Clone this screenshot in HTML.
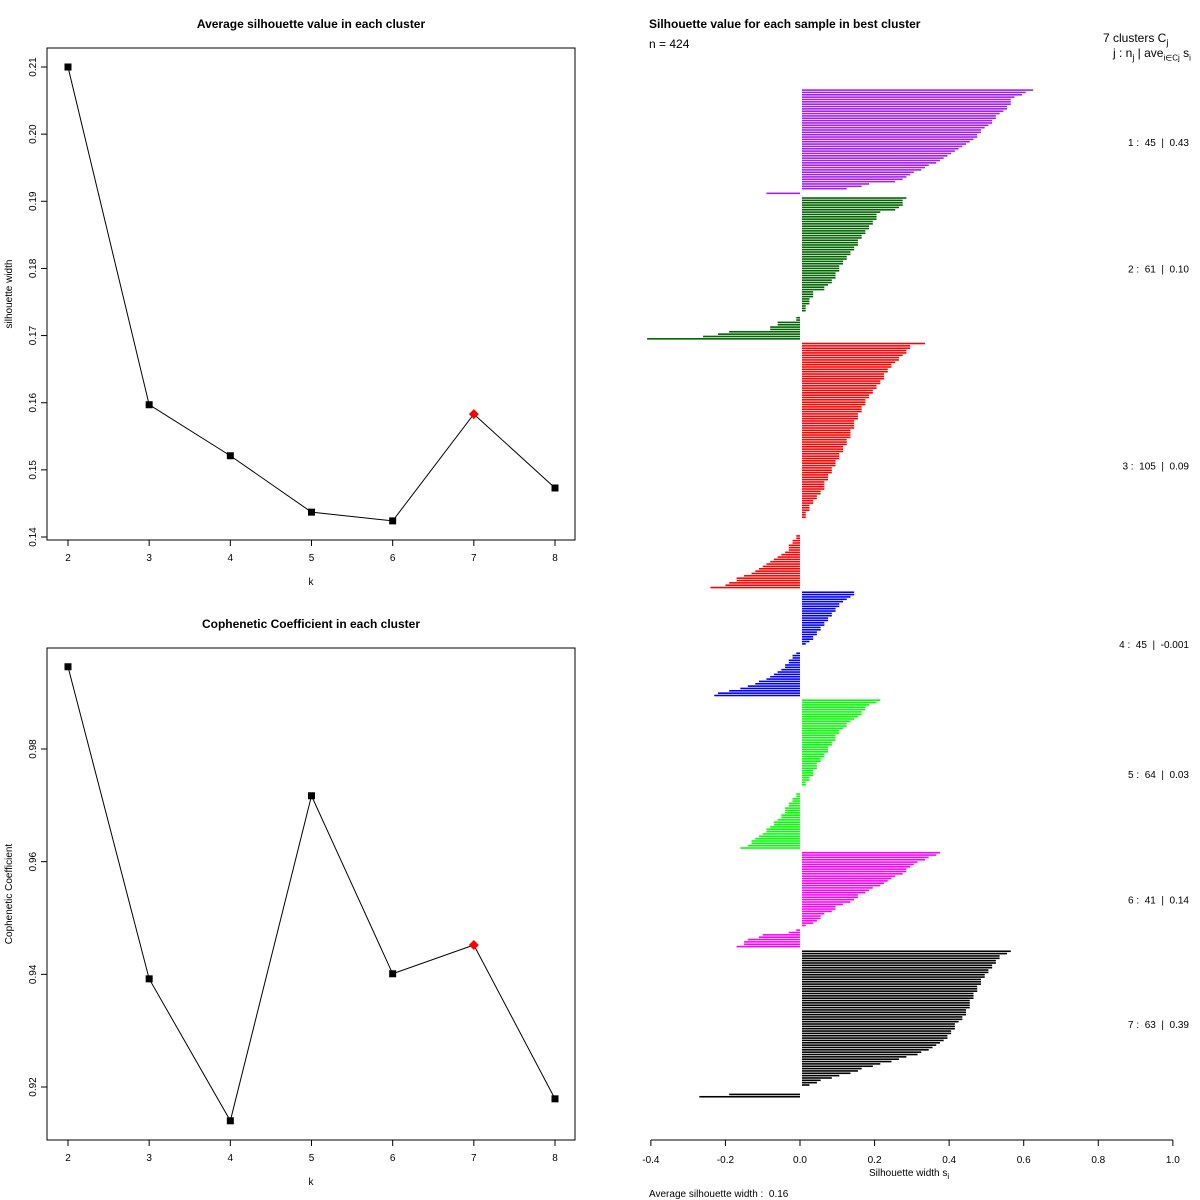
<!DOCTYPE html>
<html><head><meta charset="utf-8"><style>
body{margin:0;background:#fff;}
svg{display:block;font-family:"Liberation Sans",sans-serif;}
</style></head><body>
<svg id="c" width="1200" height="1200" viewBox="0 0 1200 1200"></svg>
<script>
const ks=[2,3,4,5,6,7,8];
const silValues=[0.2100,0.1597,0.1521,0.1437,0.1424,0.1583,0.1473];
const silTicks=[0.14,0.15,0.16,0.17,0.18,0.19,0.20,0.21];
const copheValues=[0.9946,0.9392,0.9140,0.9717,0.9401,0.9452,0.9179];
const copheTicks=[0.92,0.94,0.96,0.98];
const bestK=7;
const clusterNames=["1","2","3","4","5","6","7"];
const clusterSizes=[45,61,105,45,64,41,63];
const clusterAvg=["0.43","0.10","0.09","-0.001","0.03","0.14","0.39"];
const clusterColors=["#a020f0","#006400","#ff0000","#0000ff","#00ff00","#ff00ff","#000000"];
const c1=[0.62,0.60,0.59,0.57,0.56,0.56,0.56,0.55,0.55,0.54,0.53,0.52,0.52,0.51,0.51,0.50,0.49,0.48,0.48,0.47,0.47,0.46,0.45,0.44,0.43,0.42,0.41,0.40,0.39,0.38,0.37,0.36,0.34,0.33,0.32,0.30,0.29,0.28,0.27,0.25,0.18,0.16,0.12,0,-0.09];
const c2=[0.28,0.27,0.27,0.27,0.26,0.25,0.21,0.20,0.20,0.20,0.19,0.19,0.18,0.18,0.17,0.17,0.16,0.16,0.15,0.15,0.15,0.14,0.14,0.13,0.13,0.12,0.12,0.11,0.11,0.10,0.10,0.10,0.09,0.09,0.09,0.08,0.08,0.07,0.06,0.06,0.03,0.03,0.03,0.02,0.02,0.02,0.01,0.01,0.01,0,0,-0.01,-0.01,-0.06,-0.06,-0.08,-0.08,-0.19,-0.22,-0.26,-0.41];
const c3=[0.33,0.29,0.29,0.28,0.28,0.27,0.26,0.26,0.25,0.24,0.24,0.23,0.23,0.22,0.22,0.22,0.21,0.21,0.20,0.20,0.19,0.19,0.18,0.18,0.17,0.17,0.17,0.16,0.16,0.16,0.15,0.15,0.15,0.14,0.14,0.14,0.14,0.13,0.13,0.13,0.13,0.12,0.12,0.12,0.11,0.11,0.11,0.10,0.10,0.10,0.09,0.09,0.09,0.08,0.08,0.08,0.07,0.07,0.07,0.06,0.06,0.06,0.06,0.05,0.05,0.04,0.04,0.03,0.03,0.02,0.02,0.02,0.01,0.01,0.01,0,0,0,0,0,0,0,-0.01,-0.01,-0.02,-0.02,-0.03,-0.03,-0.03,-0.04,-0.05,-0.06,-0.07,-0.08,-0.09,-0.10,-0.11,-0.12,-0.13,-0.15,-0.17,-0.17,-0.19,-0.20,-0.24];
const c4=[0.14,0.14,0.13,0.12,0.11,0.10,0.10,0.09,0.09,0.08,0.08,0.07,0.07,0.06,0.06,0.05,0.05,0.04,0.04,0.03,0.03,0.02,0.01,0,0,0,-0.01,-0.02,-0.02,-0.03,-0.03,-0.04,-0.04,-0.05,-0.06,-0.07,-0.08,-0.09,-0.11,-0.12,-0.14,-0.16,-0.19,-0.22,-0.23];
const c5=[0.21,0.20,0.18,0.17,0.17,0.16,0.16,0.15,0.14,0.13,0.12,0.12,0.11,0.10,0.10,0.09,0.09,0.09,0.08,0.08,0.07,0.07,0.07,0.06,0.06,0.05,0.05,0.04,0.04,0.04,0.03,0.03,0.03,0.02,0.02,0.01,0.01,0,0,0,-0.01,-0.01,-0.02,-0.02,-0.03,-0.03,-0.04,-0.04,-0.04,-0.05,-0.05,-0.06,-0.07,-0.07,-0.08,-0.09,-0.09,-0.10,-0.11,-0.12,-0.13,-0.13,-0.14,-0.16];
const c6=[0.37,0.36,0.34,0.33,0.31,0.30,0.29,0.28,0.28,0.27,0.25,0.24,0.23,0.22,0.21,0.19,0.18,0.17,0.15,0.15,0.14,0.13,0.11,0.09,0.09,0.08,0.06,0.05,0.05,0.04,0.03,0.01,0,-0.01,-0.03,-0.10,-0.11,-0.14,-0.15,-0.15,-0.17];
const c7=[0.56,0.55,0.53,0.53,0.52,0.52,0.51,0.51,0.50,0.50,0.49,0.49,0.48,0.48,0.48,0.47,0.47,0.47,0.46,0.46,0.46,0.45,0.45,0.45,0.45,0.44,0.44,0.44,0.43,0.43,0.42,0.41,0.41,0.41,0.40,0.40,0.39,0.39,0.38,0.37,0.36,0.35,0.34,0.32,0.31,0.28,0.26,0.24,0.21,0.19,0.16,0.15,0.13,0.10,0.08,0.05,0.04,0.02,0,0,0,-0.19,-0.27];
const clusterValues=[c1,c2,c3,c4,c5,c6,c7];
const silXTicks=[-0.4,-0.2,0.0,0.2,0.4,0.6,0.8,1.0];

const NS="http://www.w3.org/2000/svg";
const svg=document.getElementById('c');
function mk(tag,attrs,parent,text){const e=document.createElementNS(NS,tag);for(const k in attrs)e.setAttribute(k,attrs[k]);if(text!==undefined)e.textContent=text;(parent||svg).appendChild(e);return e;}

function linePlot(vals,ticks,box,ymin,ymax,title,ylab,prefix,fmt){
  const g=mk('g',{});
  
  
  const X=k=>68+(k-2)*(555-68)/6;
  const Y=v=>box.yb-(v-ymin)/(ymax-ymin)*(box.yb-box.yt);
  const r=mk('rect',{x:box.x0,y:box.y0,width:box.x1-box.x0,height:box.y1-box.y0,fill:'none',stroke:'#000','stroke-width':1},g);
  
  
  const t=mk('text',{x:(box.x0+box.x1)/2,y:box.y0-20,'text-anchor':'middle','font-size':12,'font-weight':'bold'},g,title);
  
  
  ks.forEach(k=>{
    mk('line',{x1:X(k),x2:X(k),y1:box.y1,y2:box.y1+6,stroke:'#000'},g);
    const tl=mk('text',{x:X(k),y:box.y1+21,'text-anchor':'middle','font-size':10},g,String(k));
    
    
  });
  ticks.forEach(v=>{
    const y=Y(v);
    mk('line',{x1:box.x0-6,x2:box.x0,y1:y,y2:y,stroke:'#000'},g);
    const tl=mk('text',{x:0,y:0,'text-anchor':'middle','font-size':10,transform:`translate(${box.x0-11},${y}) rotate(-90)`},g,fmt(v));
    
    
  });
  const xl=mk('text',{x:(box.x0+box.x1)/2,y:box.y1+45,'text-anchor':'middle','font-size':10},g,'k');
  
  
  const yl=mk('text',{x:0,y:0,'text-anchor':'middle','font-size':10,transform:`translate(12,${(box.y0+box.y1)/2}) rotate(-90)`},g,ylab);
  
  
  const pts=vals.map((v,i)=>X(ks[i])+','+Y(v)).join(' ');
  const pl=mk('polyline',{points:pts,fill:'none',stroke:'#000','stroke-width':1},g);
  
  
  vals.forEach((v,i)=>{
    const x=X(ks[i]),y=Y(v);
    let p;
    if(ks[i]===bestK){p=mk('polygon',{points:`${x},${y-5} ${x+5},${y} ${x},${y+5} ${x-5},${y}`,fill:'#ff0000'},g);}
    else{p=mk('rect',{x:x-3.5,y:y-3.5,width:7,height:7,fill:'#000'},g);}
    
    
  });
}
linePlot(silValues,silTicks,{x0:47,x1:575,y0:48,y1:540,yt:67,yb:537},0.14,0.21,'Average silhouette value in each cluster','silhouette width','silhouette',v=>v.toFixed(2));
linePlot(copheValues,copheTicks,{x0:47,x1:575,y0:648,y1:1140,yt:749,yb:1087},0.92,0.98,'Cophenetic Coefficient in each cluster','Cophenetic Coefficient','cophenetic',v=>v.toFixed(2));

const sg=mk('g',{});


const SX=v=>800+v*(1173-651)/1.4;
const totalSlots=clusterSizes.reduce((a,b)=>a+b,0)+clusterSizes.length-1;
const barTop=89,barBot=1098,slot=(barBot-barTop)/totalSlots;
let idx=0;
clusterValues.forEach((arr,ci)=>{
  const start=idx;
  arr.forEach(v=>{
    const y=barTop+idx*slot;
    const x0=Math.min(SX(0),SX(v)),w=Math.abs(SX(v)-SX(0));
    if(w>0){
      const b=mk('rect',{x:v>=0?x0+2:x0,y:y+0.3,width:w,height:slot*0.68,fill:clusterColors[ci]},sg);
      
      
    }
    idx++;
  });
  const mid=barTop+(start+arr.length/2)*slot;
  const lab=mk('text',{x:1189,y:mid+4,'text-anchor':'end','font-size':10,style:'white-space:pre'},sg,`${clusterNames[ci]} :  ${clusterSizes[ci]}  |  ${clusterAvg[ci]}`);
  
  
  idx++;
});
mk('line',{x1:SX(-0.4),x2:SX(1.0),y1:1140,y2:1140,stroke:'#000'},sg);
silXTicks.forEach(v=>{
  mk('line',{x1:SX(v),x2:SX(v),y1:1140,y2:1146,stroke:'#000'},sg);
  const t=mk('text',{x:SX(v),y:1163,'text-anchor':'middle','font-size':10},sg,v.toFixed(1));
  
  
});
</script>
<div style="position:absolute;left:0;top:0;width:1200px;height:1200px;pointer-events:none;font-family:'Liberation Sans',sans-serif;">
<div style="position:absolute;left:649px;top:17px;font-size:12px;font-weight:bold;">Silhouette value for each sample in best cluster</div>
<div style="position:absolute;left:649px;top:37px;font-size:12px;">n = 424</div>
<div style="position:absolute;left:1103px;top:31px;font-size:12px;">7 clusters  C<sub style="font-size:9px">j</sub></div>
<div style="position:absolute;left:1113px;top:46px;font-size:12px;white-space:nowrap;">j :  n<sub style="font-size:9px">j</sub> | ave<sub style="font-size:8px">i∈Cj</sub>  s<sub style="font-size:8px">i</sub></div>
<div style="position:absolute;left:869px;top:1168px;font-size:10px;">Silhouette width s<sub style="font-size:8px">i</sub></div>
<div style="position:absolute;left:649px;top:1189px;font-size:10px;white-space:pre;">Average silhouette width :  0.16</div>
</div>
</body></html>
